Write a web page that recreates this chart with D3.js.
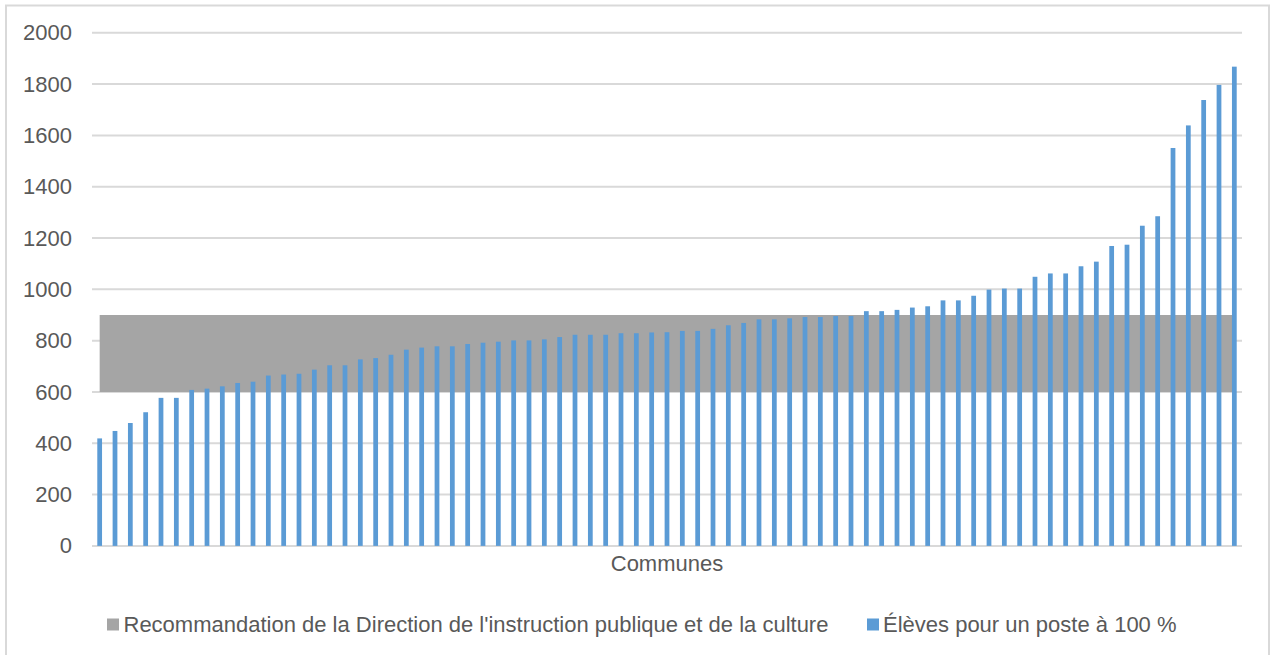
<!DOCTYPE html>
<html>
<head>
<meta charset="utf-8">
<script src="https://cdn.jsdelivr.net/npm/d3@7"></script>
<style>
  html, body { margin: 0; padding: 0; background: #ffffff; }
  svg { display: block; }
  text { font-family: "Liberation Sans", Arial, sans-serif; fill: #595959; }
</style>
</head>
<body>
<svg id="chart" width="1277" height="655"></svg>
<script>
// ---- Data ----
const eleves = [419, 448, 479, 521, 577, 577, 608, 613, 622, 635, 640, 664, 668, 671, 687, 704, 704, 727, 732, 745,
                765, 773, 778, 778, 787, 792, 796, 801, 801, 805, 814, 823, 823, 823, 829, 829, 832, 833, 838, 838,
                846, 860, 869, 883, 883, 887, 892, 892, 896, 896, 915, 915, 920, 929, 934, 957, 957, 975, 999, 1003,
                1003, 1049, 1062, 1062, 1090, 1108, 1169, 1174, 1248, 1285, 1551, 1639, 1738, 1797, 1868];
const communes = eleves.map((d, i) => "Commune " + (i + 1));
const recoMin = 600;
const recoMax = 900;
const yTicks = [0, 200, 400, 600, 800, 1000, 1200, 1400, 1600, 1800, 2000];
const xTitle = "Communes";
const legendLabels = ["Recommandation de la Direction de l'instruction publique et de la culture", "Élèves pour un poste à 100 %"];
const colors = { reco: "#a5a5a5", eleves: "#5b9bd5", grid: "#d9d9d9" };

// ---- Layout ----
const svg = d3.select("#chart");
const plot = { left: 92, right: 1242, top: 32.8, bottom: 545.9 };

const x = d3.scaleBand().domain(communes).range([plot.left, plot.right]).paddingInner(0.69).paddingOuter(0.345);
const y = d3.scaleLinear().domain([0, 2000]).range([plot.bottom, plot.top]);

// outer border
svg.append("rect").attr("x", 6).attr("y", 5.5).attr("width", 1263).attr("height", 670)
  .attr("fill", "none").attr("stroke", colors.grid).attr("stroke-width", 2);

// gridlines
svg.append("g").selectAll("line").data(yTicks.filter(d => d !== 0)).join("line")
  .attr("x1", plot.left).attr("x2", plot.right)
  .attr("y1", d => y(d)).attr("y2", d => y(d))
  .attr("stroke", colors.grid).attr("stroke-width", 2);

// recommendation band (area between recoMin and recoMax)
const cx = d => x(d) + x.bandwidth() / 2;
const area = d3.area().x(d => cx(d)).y0(() => y(recoMin)).y1(() => y(recoMax));
svg.append("path").datum(communes).attr("d", area).attr("fill", colors.reco);

// x axis baseline
svg.append("line").attr("x1", plot.left).attr("x2", plot.right)
  .attr("y1", y(0)).attr("y2", y(0)).attr("stroke", colors.grid).attr("stroke-width", 2);

// bars
svg.append("g").selectAll("rect").data(eleves).join("rect")
  .attr("x", (d, i) => x(communes[i]))
  .attr("width", x.bandwidth())
  .attr("y", d => y(d))
  .attr("height", d => y(0) - y(d))
  .attr("fill", colors.eleves);

// y axis labels
const yAxis = d3.axisLeft(y).tickValues(yTicks).tickFormat(d3.format("d")).tickSize(0).tickPadding(0);
const gy = svg.append("g").attr("transform", `translate(72,0)`).call(yAxis);
gy.select(".domain").remove();
gy.selectAll("text").attr("font-size", 22).attr("fill", "#595959")
  .style("font-family", '"Liberation Sans", Arial, sans-serif');

// x axis title
svg.append("text").attr("x", (plot.left + plot.right) / 2).attr("y", 571)
  .attr("text-anchor", "middle").attr("font-size", 22).text(xTitle);

// legend
const legend = [
  { label: legendLabels[0], color: colors.reco, sx: 107, tx: 123.5 },
  { label: legendLabels[1], color: colors.eleves, sx: 867, tx: 883 }
];
const lg = svg.append("g");
legend.forEach(l => {
  lg.append("rect").attr("x", l.sx).attr("y", 618.5).attr("width", 12).attr("height", 12).attr("fill", l.color);
  lg.append("text").attr("x", l.tx).attr("y", 632).attr("font-size", 22).text(l.label);
});
</script>
</body>
</html>
